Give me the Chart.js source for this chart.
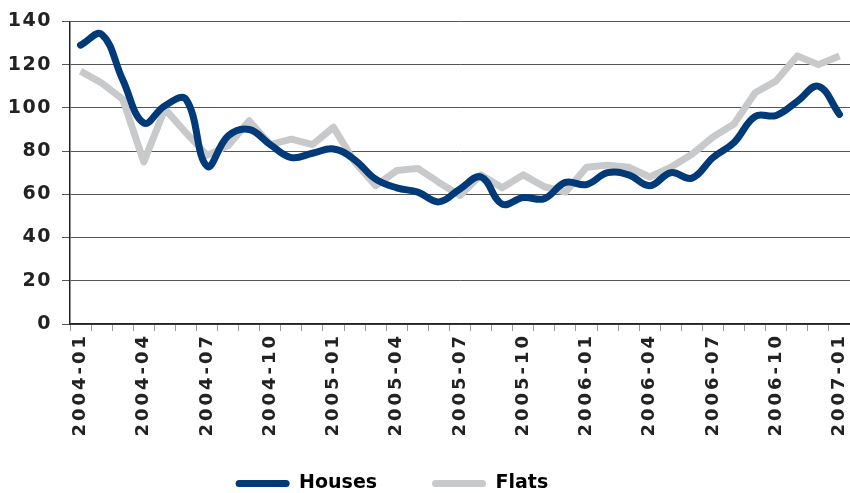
<!DOCTYPE html>
<html>
<head>
<meta charset="utf-8">
<script src="https://cdn.jsdelivr.net/npm/chart.js@4.4.1/dist/chart.umd.min.js"></script>
<style>
  html, body { margin: 0; padding: 0; background: #fff; }
</style>
</head>
<body>
<canvas id="chart" width="850" height="493"></canvas>
<script>
// monthly labels, 2004-01 .. 2007-01
const months = [
  '2004-01', '2004-02', '2004-03', '2004-04', '2004-05', '2004-06', '2004-07', '2004-08', '2004-09', '2004-10', '2004-11', '2004-12',
  '2005-01', '2005-02', '2005-03', '2005-04', '2005-05', '2005-06', '2005-07', '2005-08', '2005-09', '2005-10', '2005-11', '2005-12',
  '2006-01', '2006-02', '2006-03', '2006-04', '2006-05', '2006-06', '2006-07', '2006-08', '2006-09', '2006-10', '2006-11', '2006-12',
  '2007-01'
];

const houses = [
  129, 134, 113, 93, 101, 104, 73, 87, 90, 83, 77, 79,
  81, 76, 67, 63, 61, 56.5, 62.5, 68, 55.5, 58.5, 58, 65.5,
  64.5, 70, 69, 64, 70, 67.5, 77, 84, 96, 96.5, 103, 110,
  97
];

const flats = [
  117, 111.5, 104, 75, 99.5, 88.5, 78, 82.5, 94, 83, 85.5, 83,
  91, 75, 64, 71, 72, 65.5, 59.5, 69, 63, 69, 63.5, 61,
  72.5, 73.5, 72.5, 68, 72.5, 78.5, 86.5, 92.5, 107, 112.5, 124, 120,
  124
];

const yTicks = [0, 20, 40, 60, 80, 100, 120, 140];

const HOUSES_COLOR = '#003a78';
const FLATS_COLOR = '#c8c9cb';
const FONT = 'DejaVu Sans';

// wider tracking for the axis lettering only
const spacingPlugin = {
  id: 'spacing',
  afterLayout(chart) {
    const wrap = (scale, spacing) => {
      if (scale._wrapped) return;
      const orig = scale.drawLabels;
      scale.drawLabels = function (area) {
        const ctx = this.ctx;
        ctx.save();
        ctx.letterSpacing = spacing;
        orig.call(this, area);
        ctx.restore();
      };
      scale._wrapped = true;
    };
    wrap(chart.scales.x, '3px');
    wrap(chart.scales.y, '1.5px');
  }
};

new Chart(document.getElementById('chart'), {
  type: 'line',
  data: {
    labels: months,
    datasets: [
      {
        label: 'Houses',
        data: houses,
        borderColor: HOUSES_COLOR,
        backgroundColor: HOUSES_COLOR,
        borderWidth: 7,
        tension: 0.4,
        pointRadius: 0,
        borderCapStyle: 'round',
        borderJoinStyle: 'round'
      },
      {
        label: 'Flats',
        data: flats,
        borderColor: FLATS_COLOR,
        backgroundColor: FLATS_COLOR,
        borderWidth: 7,
        tension: 0,
        pointRadius: 0,
        borderJoinStyle: 'round'
      }
    ]
  },
  options: {
    responsive: false,
    animation: false,
    layout: { padding: { top: 10, right: 0, left: 0, bottom: -10 } },
    plugins: {
      tooltip: { enabled: false },
      legend: {
        position: 'bottom',
        labels: {
          boxWidth: 54,
          boxHeight: 7,
          useBorderRadius: true,
          borderRadius: 3.5,
          padding: 2,
          color: '#222',
          font: { family: FONT, size: 19, weight: 'bold' },
          generateLabels(chart) {
            // trailing spaces set the gap between the entries
            const pad = ['        ', '          '];
            return chart.data.datasets.map((ds, i) => ({
              text: ds.label + pad[i],
              fillStyle: ds.borderColor,
              strokeStyle: ds.borderColor,
              lineWidth: 0,
              borderRadius: 3.5,
              datasetIndex: i,
              hidden: false
            }));
          }
        }
      }
    },
    scales: {
      x: {
        offset: true,
        grid: {
          offset: true,
          drawOnChartArea: false,
          tickLength: 7,
          color: '#999',
          lineWidth: 1
        },
        border: { color: '#222', width: 1.5 },
        ticks: {
          autoSkip: false,
          maxRotation: 90,
          minRotation: 90,
          padding: 2,
          color: '#222',
          font: { family: FONT, size: 18, weight: 'bold' },
          callback(value, index) {
            return index % 3 === 0 ? months[index] : '';
          }
        },
        afterFit(scale) {
          scale.height = 148;
          scale.paddingLeft = 0;
          scale.paddingRight = 0;
        }
      },
      y: {
        min: 0,
        max: 140,
        afterBuildTicks(scale) {
          scale.ticks = yTicks.map(v => ({ value: v }));
        },
        grid: {
          color: '#555',
          lineWidth: 1,
          tickLength: 8
        },
        border: { color: '#222', width: 1.5 },
        ticks: {
          padding: 10,
          color: '#222',
          font: { family: FONT, size: 19, weight: 'bold' }
        },
        afterFit(scale) { scale.width = 70; }
      }
    }
  },
  plugins: [spacingPlugin]
});
</script>
</body>
</html>
